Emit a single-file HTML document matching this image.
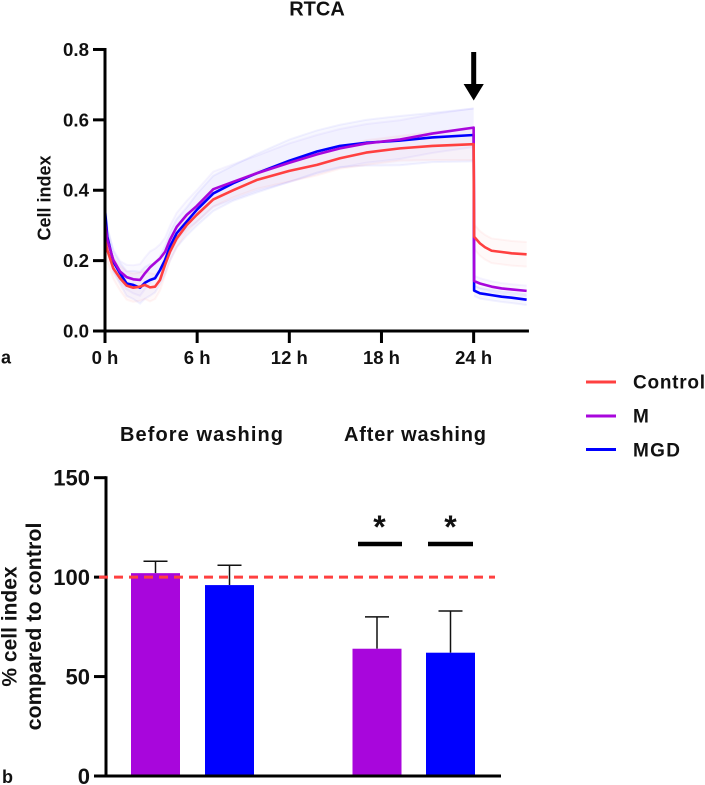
<!DOCTYPE html>
<html lang="en">
<head>
<meta charset="utf-8">
<title>RTCA</title>
<style>
html,body{margin:0;padding:0;background:#fff;}
svg{display:block;font-family:"Liberation Sans",sans-serif;font-weight:bold;fill:#111;}
</style>
</head>
<body>
<svg id="figure" xmlns="http://www.w3.org/2000/svg" width="705" height="785" viewBox="0 0 705 785">
  <text x="317" y="15.5" font-size="20" text-anchor="middle">RTCA</text>
  <g id="line-bands"></g>
  <g id="line-series"></g>
  <g id="top-axes"></g>
  <text transform="translate(50.5,198) rotate(-90)" font-size="18" text-anchor="middle">Cell index</text>
  <path d="M471.2 52h5v32h7.6l-10.1 16.5-10.1-16.5h7.6z" fill="#000"/>
  <text x="1" y="363.5" font-size="18">a</text>

  <g>
    <line x1="586" x2="616" y1="382" y2="382" stroke="#ff4040" stroke-width="3"/>
    <text x="633" y="388.5" font-size="19" textLength="72">Control</text>
    <line x1="586" x2="616" y1="416" y2="416" stroke="#a806dc" stroke-width="3"/>
    <text x="633" y="422.5" font-size="19">M</text>
    <line x1="586" x2="616" y1="449.5" y2="449.5" stroke="#0000ff" stroke-width="3"/>
    <text x="633" y="456.5" font-size="19" textLength="47">MGD</text>
  </g>

  <text x="120" y="441" font-size="20" textLength="163">Before washing</text>
  <text x="344" y="441" font-size="20" textLength="142">After washing</text>

  <g id="bars"></g>
  <g id="bottom-axes"></g>
  <line id="reference-line" stroke="#ff4040" stroke-width="3" stroke-dasharray="9 6"/>

  <g>
    <line x1="358" x2="402" y1="544" y2="544" stroke="#000" stroke-width="4.5"/>
    <line x1="428" x2="473" y1="544" y2="544" stroke="#000" stroke-width="4.5"/>
    <text x="379.5" y="538" font-size="32" text-anchor="middle">*</text>
    <text x="450.5" y="538" font-size="32" text-anchor="middle">*</text>
  </g>

  <g>
    <text transform="translate(16.5,626.5) rotate(-90)" font-size="21" text-anchor="middle">% cell index</text>
    <text transform="translate(41,626.5) rotate(-90)" font-size="21.5" text-anchor="middle">compared to control</text>
  </g>
  <text x="2" y="783" font-size="18">b</text>
</svg>
<script>
// Line chart data
const hours = [0,0.15,0.54,0.98,1.41,1.84,2.28,2.6,2.93,3.26,3.58,3.91,4.23,4.67,5.32,5.97,7.05,8.35,9.87,12,13.8,15.3,17,19.2,21.3,24,24.03,24.41,24.74,25.17,25.82,26.47,27.45];
const controlValues = [0.259,0.23,0.178,0.15,0.129,0.123,0.126,0.131,0.124,0.126,0.145,0.188,0.225,0.263,0.301,0.33,0.374,0.40,0.429,0.455,0.472,0.491,0.507,0.519,0.526,0.531,0.268,0.249,0.238,0.228,0.2245,0.2207,0.218];
const mValues = [0.31,0.259,0.202,0.169,0.153,0.147,0.145,0.164,0.181,0.194,0.206,0.225,0.259,0.296,0.33,0.355,0.403,0.424,0.448,0.478,0.502,0.519,0.533,0.544,0.561,0.578,0.142,0.135,0.131,0.126,0.121,0.118,0.114];
const mgdValues = [0.344,0.268,0.197,0.164,0.135,0.131,0.123,0.137,0.145,0.15,0.173,0.202,0.24,0.278,0.311,0.344,0.391,0.42,0.448,0.484,0.51,0.526,0.535,0.541,0.55,0.557,0.115,0.107,0.105,0.102,0.0976,0.0947,0.089];
const controlError = [0.03,0.03,0.03,0.035,0.04,0.04,0.04,0.04,0.04,0.035,0.03,0.03,0.025,0.025,0.02,0.02,0.02,0.02,0.025,0.03,0.03,0.03,0.035,0.035,0.04,0.045,0.035,0.035,0.035,0.035,0.035,0.035,0.035];
const mError = [0.03,0.03,0.03,0.03,0.035,0.04,0.045,0.045,0.045,0.04,0.04,0.04,0.04,0.04,0.04,0.045,0.05,0.05,0.05,0.055,0.055,0.055,0.055,0.055,0.055,0.055,0.015,0.015,0.015,0.015,0.015,0.015,0.015];
const mgdError = [0.03,0.03,0.03,0.03,0.035,0.04,0.045,0.045,0.045,0.04,0.04,0.04,0.04,0.04,0.04,0.045,0.05,0.05,0.055,0.06,0.06,0.06,0.065,0.07,0.07,0.075,0.015,0.015,0.015,0.015,0.015,0.015,0.015];
const lineYTicks = [0,0.2,0.4,0.6,0.8];
const lineXTicks = [0,6,12,18,24];
const lineXMax = 27.6;

// Bar chart data
const barGroups = ["Before M","Before MGD","After M","After MGD"];
const barValues = [102,96,64,62];
const barErrorTops = [108,106,80,83];
const barYTicks = [0,50,100,150];
const referenceValue = 100;

const SVG_NS = "http://www.w3.org/2000/svg";
const xHour = h => 105 + h * 15.36;
const yIndex = v => 331 - v * 351.9;
const xBarSlot = i => [155.5,229.5,377,450.5][i];
const yPercent = v => 776 - v * 1.9887;

function make(tag, attrs, parent, text) {
  const el = document.createElementNS(SVG_NS, tag);
  for (const k in attrs) el.setAttribute(k, attrs[k]);
  if (text !== undefined) el.textContent = text;
  parent.appendChild(el);
  return el;
}

const bandsGroup = document.getElementById("line-bands");
const seriesGroup = document.getElementById("line-series");
const topAxes = document.getElementById("top-axes");
const barsGroup = document.getElementById("bars");
const bottomAxes = document.getElementById("bottom-axes");
const dropIndex = 26;

function drawBandPart(values, errors, color, name, from, to) {
  const up = [];
  const down = [];
  for (let i = from; i < to; i++) {
    up.push(xHour(hours[i]) + "," + yIndex(values[i] + errors[i]));
    down.push(xHour(hours[i]) + "," + yIndex(values[i] - errors[i]));
  }
  const poly = make("polygon", {points: up.concat(down.slice().reverse()).join(" "), fill: color, "fill-opacity": 0.03}, bandsGroup);
  
  
  const upper = make("polyline", {points: up.join(" "), fill: "none", stroke: color, "stroke-opacity": 0.05, "stroke-width": 2}, bandsGroup);
  
  
  const lower = make("polyline", {points: down.join(" "), fill: "none", stroke: color, "stroke-opacity": 0.05, "stroke-width": 2}, bandsGroup);
  
  
}

function drawBand(values, errors, color, name) {
  drawBandPart(values, errors, color, name, 0, dropIndex);
  drawBandPart(values, errors, color, name, dropIndex, hours.length);
}

function drawSeries(values, color, name) {
  const line = make("polyline", {
    points: values.map((v, i) => xHour(hours[i]) + "," + yIndex(v)).join(" "),
    fill: "none", stroke: color, "stroke-width": 2.6, "stroke-linejoin": "round"
  }, seriesGroup);
  
  
}

drawBand(mgdValues, mgdError, "#0000ff", "mgd");
drawBand(mValues, mError, "#5030ff", "m");
drawBand(controlValues, controlError, "#ff4040", "control");
drawSeries(mgdValues, "#0000ff", "mgd");
drawSeries(mValues, "#a806dc", "m");
drawSeries(controlValues, "#ff4040", "control");

const axisStyle = {stroke: "#000", "stroke-width": 3};
const lineYAxis = make("line", Object.assign({x1: 105, x2: 105, y1: yIndex(0.8) - 1.5, y2: yIndex(0)}, axisStyle), topAxes);


const lineXAxis = make("line", Object.assign({x1: 93, x2: xHour(lineXMax), y1: 331, y2: 331}, axisStyle), topAxes);



lineYTicks.forEach(t => {
  const tick = make("line", Object.assign({x1: 93, x2: 105, y1: yIndex(t), y2: yIndex(t)}, axisStyle), topAxes);
  
  
  const label = make("text", {x: 89, y: yIndex(t) + 6.5, "font-size": 18.7, "text-anchor": "end"}, topAxes, t.toFixed(1));
  
  
});
lineXTicks.forEach(t => {
  const tick = make("line", Object.assign({x1: xHour(t), x2: xHour(t), y1: 331, y2: 343}, axisStyle), topAxes);
  
  
  const label = make("text", {x: xHour(t), y: 364, "font-size": 18.5, "text-anchor": "middle"}, topAxes, t + " h");
  
  
});

const barColors = ["#a806dc","#0000ff","#a806dc","#0000ff"];
barGroups.forEach((g, i) => {
  const cx = xBarSlot(i);
  const stem = make("line", {x1: cx, x2: cx, y1: yPercent(barValues[i]), y2: yPercent(barErrorTops[i]), stroke: "#111", "stroke-width": 1.5}, barsGroup);
  
  
  const cap = make("line", {x1: cx - 12, x2: cx + 12, y1: yPercent(barErrorTops[i]), y2: yPercent(barErrorTops[i]), stroke: "#111", "stroke-width": 1.5}, barsGroup);
  
  
  const bar = make("rect", {x: cx - 24.5, y: yPercent(barValues[i]), width: 49, height: yPercent(0) - yPercent(barValues[i]), fill: barColors[i]}, barsGroup);
  
  
});

const barYAxis = make("line", Object.assign({x1: 106, x2: 106, y1: yPercent(150) - 1.5, y2: yPercent(0)}, axisStyle), bottomAxes);


const barXAxis = make("line", Object.assign({x1: 94, x2: 501, y1: 776, y2: 776}, axisStyle), bottomAxes);


barYTicks.forEach(t => {
  const tick = make("line", Object.assign({x1: 94, x2: 106, y1: yPercent(t), y2: yPercent(t)}, axisStyle), bottomAxes);
  
  
  const label = make("text", {x: 90, y: yPercent(t) + 8, "font-size": 22, "text-anchor": "end"}, bottomAxes, String(t));
  
  
});

const refLine = document.getElementById("reference-line");
refLine.setAttribute("x1", 99);
refLine.setAttribute("x2", 495);
refLine.setAttribute("y1", yPercent(referenceValue));
refLine.setAttribute("y2", yPercent(referenceValue));
</script>
</body>
</html>
